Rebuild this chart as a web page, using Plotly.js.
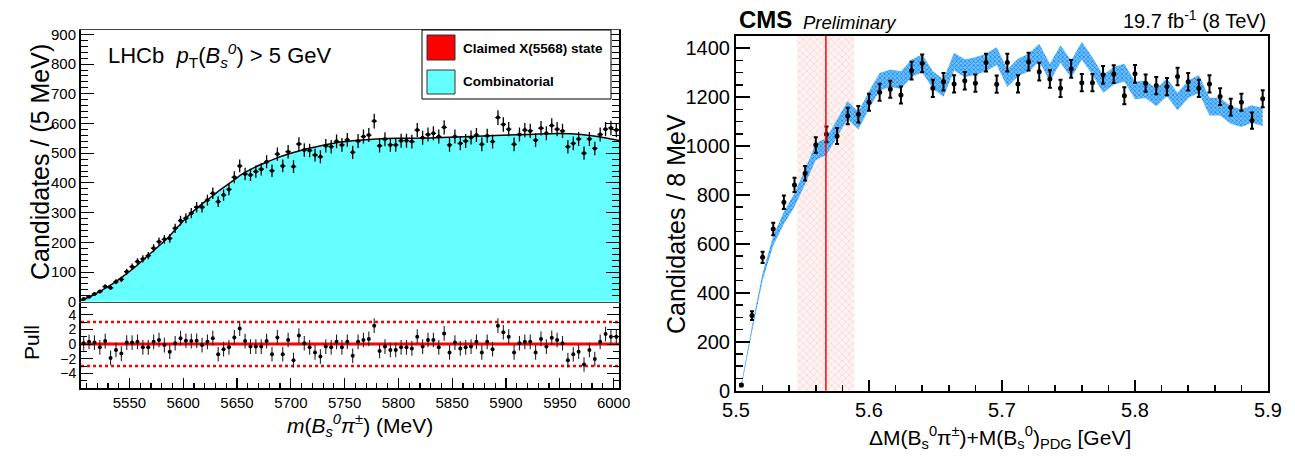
<!DOCTYPE html>
<html><head><meta charset="utf-8">
<script src="https://cdn.plot.ly/plotly-3.0.1.min.js"></script>
<style>body{margin:0;background:#fff}#plot{width:1295px;height:458px}</style>
</head><body><div id="plot"></div>
<script>
// ---------- LHCb panel data ----------
const lhcbBinStart = 5507.5;   // first bin centre (MeV)
const lhcbBinWidth = 5;        // MeV
const lhcbCounts = [9,17,26,34,51,47,67,75,101,118,135,144,155,180,202,210,213,247,273,281,
  298,318,318,342,365,337,359,378,419,457,430,427,438,446,471,441,497,457,505,455,
  531,511,509,494,488,525,522,540,528,545,503,541,556,561,608,525,547,528,528,542,
  542,539,578,552,563,567,556,587,528,556,533,541,553,561,530,559,539,620,597,581,
  530,563,578,575,544,584,567,593,581,575,522,533,548,500,548,516,563,581,585,578];
const lhcbPulls = [0.1,0.3,0.2,-0.45,0.4,-1.9,-0.8,-1.3,0.2,0.2,0.3,-0.45,-0.45,0.3,0.55,-0.15,-1.05,0.1,0.8,0.45,
  0.4,0.45,-0.15,0.3,0.8,-1.4,-0.7,-0.45,0.9,2.1,0.4,-0.35,-0.35,-0.35,0.4,-1.4,0.9,-1.4,0.55,-2.2,
  1.15,0.1,-0.45,-1.15,-1.7,-0.35,-0.45,0.3,-0.45,0.3,-1.6,0.3,0.55,0.7,2.5,-0.95,-0.35,-0.8,-0.8,-0.45,
  -0.45,-0.6,1.0,-0.35,0.55,0.55,-0.45,1.45,-1.15,0.2,-0.6,-0.45,-0.35,0.3,-1.15,0.3,-0.7,2.5,1.6,1.0,
  -1.15,0.1,0.3,0.3,-1.15,0.7,-0.35,0.85,0.55,0.1,-2.2,-1.4,-1.05,-2.8,-0.8,-2.05,0.3,1.35,1.0,1.0];
const fitMass = [5505,5515,5525,5535,5545,5555,5565,5575,5585,5595,5605,5615,5625,5635,5645,5655,5665,5675,5685,5695,
  5705,5715,5730,5745,5760,5780,5800,5830,5860,5890,5920,5950,5970,5990,6005];
const fitComb = [5,20,40,62,88,116,148,180,213,252,290,322,350,378,404,430,450,466,481,494,
  505,515,527,537,543,548,550,551,555,560,563,566,563,553,543];
const pullLimits = [-3, 3];
const legendLabels = ["Claimed X(5568) state", "Combinatorial"];

// ---------- CMS panel data ----------
const cmsBinStart = 5.504;  // GeV
const cmsBinWidth = 0.008;  // GeV
const cmsCounts = [23,307,545,661,770,841,889,1004,1048,1041,1123,1130,1179,1220,1232,1209,1308,1338,1236,1263,
  1254,1267,1257,1341,1253,1341,1254,1345,1304,1274,1236,1315,1259,1259,1291,1294,1206,1295,1257,1247,
  1243,1284,1263,1236,1254,1202,1159,1179,1104,1193];
const cmsBandLo = [12,240,451,593,681,752,845,943,963,1037,1112,1068,1152,1227,1241,1234,1282,1302,1234,1201,
  1309,1282,1291,1305,1332,1241,1285,1305,1346,1264,1340,1278,1354,1291,1218,1251,1264,1191,1196,1163,
  1204,1146,1196,1218,1125,1125,1091,1078,1095,1082];
const cmsBandHi = [28,264,481,633,731,808,905,1011,1033,1109,1184,1140,1224,1299,1313,1306,1354,1374,1306,1273,
  1381,1354,1363,1377,1404,1313,1357,1377,1418,1336,1412,1350,1426,1363,1290,1323,1336,1263,1268,1235,
  1276,1218,1268,1290,1197,1197,1163,1150,1167,1154];
const claimedMass = 5.5676;        // GeV
const claimedRegion = [5.546, 5.589];
const cmsYMax = 1451;

// ---------- geometry helpers (pixel -> paper) ----------
const W = 1295, H = 458;
const px = v => v / W, py = v => 1 - v / H;
const FONT = "Liberation Sans, Arial, Helvetica, sans-serif";

const traces = [
  {x: fitMass, y: fitComb, xaxis: 'x2', yaxis: 'y2', type: 'scatter', mode: 'lines',
   line: {color: '#1a0000', width: 1.5, shape: 'spline'}, fill: 'tozeroy', fillcolor: '#66ffff',
   hoverinfo: 'skip', showlegend: false},
  {x0: lhcbBinStart, dx: lhcbBinWidth, y: lhcbCounts, xaxis: 'x2', yaxis: 'y2', type: 'scatter', mode: 'markers',
   marker: {color: 'black', size: 4},
   error_y: {type: 'sqrt', color: 'black', thickness: 1.3, width: 0},
   error_x: {type: 'constant', value: lhcbBinWidth / 2, color: 'black', thickness: 1.3, width: 0},
   showlegend: false},
  {x: [5505, 6005], y: [pullLimits[1], pullLimits[1]], xaxis: 'x', yaxis: 'y', mode: 'lines',
   line: {color: '#ff0000', width: 2.5, dash: 'dot'}, showlegend: false, hoverinfo: 'skip'},
  {x: [5505, 6005], y: [pullLimits[0], pullLimits[0]], xaxis: 'x', yaxis: 'y', mode: 'lines',
   line: {color: '#ff0000', width: 2.5, dash: 'dot'}, showlegend: false, hoverinfo: 'skip'},
  {x: [5505, 6005], y: [0, 0], xaxis: 'x', yaxis: 'y', mode: 'lines',
   line: {color: '#ff0000', width: 3}, showlegend: false, hoverinfo: 'skip'},
  {x0: lhcbBinStart, dx: lhcbBinWidth, y: lhcbPulls, xaxis: 'x', yaxis: 'y', type: 'scatter', mode: 'markers',
   marker: {color: 'black', size: 4},
   error_y: {type: 'constant', value: 1, color: '#222', thickness: 1.1, width: 0},
   showlegend: false},
  {x: [claimedRegion[0], claimedRegion[1], claimedRegion[1], claimedRegion[0], claimedRegion[0]],
   y: [0, 0, cmsYMax, cmsYMax, 0], xaxis: 'x3', yaxis: 'y3', mode: 'lines', line: {width: 0},
   fill: 'toself', fillcolor: 'rgba(255,255,255,0)',
   fillpattern: {shape: 'x', size: 5, solidity: 0.15, fgcolor: '#ffaaaa', bgcolor: '#fff4f4'},
   showlegend: false, hoverinfo: 'skip'},
  {x0: cmsBinStart, dx: cmsBinWidth, y: cmsBandLo, xaxis: 'x3', yaxis: 'y3', mode: 'lines',
   line: {width: 0, color: '#2f9cf5'}, showlegend: false, hoverinfo: 'skip'},
  {x0: cmsBinStart, dx: cmsBinWidth, y: cmsBandHi, xaxis: 'x3', yaxis: 'y3', mode: 'lines',
   line: {width: 0, color: '#2f9cf5'}, fill: 'tonexty', fillcolor: '#4fb0f7',
   fillpattern: {shape: 'x', size: 3, solidity: 0.45, fgcolor: '#1688f0', bgcolor: '#72c2ff'},
   showlegend: false, hoverinfo: 'skip'},
  {x0: cmsBinStart, dx: cmsBinWidth, y: cmsCounts, xaxis: 'x3', yaxis: 'y3', type: 'scatter', mode: 'markers',
   marker: {color: 'black', size: 5},
   error_y: {type: 'sqrt', color: 'black', thickness: 2, width: 2},
   showlegend: false}
];

const leftDom = [px(81), px(619)];
const rightDom = [px(736), px(1268)];

const layout = {
  width: W, height: H, margin: {l: 0, r: 0, t: 0, b: 0},
  paper_bgcolor: 'white', plot_bgcolor: 'rgba(0,0,0,0)',
  font: {family: FONT, color: 'black'},
  showlegend: false,
  xaxis: {domain: leftDom, anchor: 'y', range: [5505, 6005], dtick: 50, tick0: 5500,
    ticks: 'inside', ticklen: 10, tickwidth: 1.2, tickcolor: 'black',
    minor: {dtick: 10, ticks: 'inside', ticklen: 5, tickcolor: 'black'},
    showline: true, linecolor: 'black', linewidth: 2, showgrid: false, zeroline: false,
    tickfont: {size: 15}},
  yaxis: {domain: [py(388.3), py(301.7)], anchor: 'x', range: [-6.04, 5.77],
    tickvals: [-4, -2, 0, 2, 4], ticks: 'inside', ticklen: 12, tickcolor: 'black',
    minor: {dtick: 1, ticks: 'inside', ticklen: 6, tickcolor: 'black'},
    showline: true, linecolor: 'black', linewidth: 2, mirror: 'ticks', showgrid: false, zeroline: false,
    tickfont: {size: 14}},
  xaxis2: {domain: leftDom, anchor: 'y2', matches: 'x', range: [5505, 6005], showticklabels: false,
    ticks: '', showline: true, linecolor: '#444', linewidth: 1.5, mirror: true, showgrid: false, zeroline: false},
  yaxis2: {domain: [py(301.7), py(30)], anchor: 'x2', range: [0, 914.8], dtick: 100,
    ticks: 'inside', ticklen: 13, tickcolor: 'black',
    minor: {dtick: 20, ticks: 'inside', ticklen: 7, tickcolor: 'black'},
    showline: true, linecolor: 'black', linewidth: 2, mirror: 'ticks', showgrid: false, zeroline: false,
    tickfont: {size: 15}},
  xaxis3: {domain: rightDom, anchor: 'y3', range: [5.5, 5.9], dtick: 0.1, tick0: 5.5, tickformat: '.1f',
    ticks: 'inside', ticklen: 11, tickwidth: 1.5, tickcolor: 'black',
    minor: {dtick: 0.02, ticks: 'inside', ticklen: 6, tickcolor: 'black', tickwidth: 1.5},
    showline: true, linecolor: 'black', linewidth: 2, mirror: true, showgrid: false, zeroline: false,
    tickfont: {size: 20}},
  yaxis3: {domain: [py(390.7), py(35.7)], anchor: 'x3', range: [0, cmsYMax], dtick: 200,
    ticks: 'inside', ticklen: 14, tickwidth: 1.5, tickcolor: 'black',
    minor: {dtick: 50, ticks: 'inside', ticklen: 7, tickcolor: 'black', tickwidth: 1.5},
    showline: true, linecolor: 'black', linewidth: 2, mirror: true, showgrid: false, zeroline: false,
    tickfont: {size: 20}},
  shapes: [
    {type: 'line', xref: 'x3', yref: 'y3 domain', x0: claimedMass, x1: claimedMass, y0: 0, y1: 1,
     line: {color: '#ff0000', width: 1.5}},
    {type: 'rect', xref: 'paper', yref: 'paper', x0: px(422), x1: px(611), y0: py(99), y1: py(30),
     line: {color: 'black', width: 1}, fillcolor: 'white'},
    {type: 'rect', xref: 'paper', yref: 'paper', x0: px(427), x1: px(455), y0: py(60), y1: py(35),
     line: {color: '#333', width: 1}, fillcolor: '#ff0000'},
    {type: 'rect', xref: 'paper', yref: 'paper', x0: px(427), x1: px(455), y0: py(94), y1: py(70),
     line: {color: '#333', width: 1}, fillcolor: '#66ffff'}
  ],
  annotations: [
    {xref: 'paper', yref: 'paper', x: px(461), y: py(48), xanchor: 'left', yanchor: 'middle', showarrow: false,
     text: '<b>' + legendLabels[0] + '</b>', font: {size: 13.5}},
    {xref: 'paper', yref: 'paper', x: px(461), y: py(82), xanchor: 'left', yanchor: 'middle', showarrow: false,
     text: '<b>' + legendLabels[1] + '</b>', font: {size: 13.5}},
    {xref: 'paper', yref: 'paper', x: px(106), y: py(56), xanchor: 'left', yanchor: 'middle', showarrow: false,
     text: 'LHCb  <i>p</i><sub>T</sub>(<i>B</i><sub><i>s</i></sub><sup><i>0</i></sup>) &gt; 5 GeV', font: {size: 22}},
    {xref: 'paper', yref: 'paper', x: px(40), y: py(162), xanchor: 'center', yanchor: 'middle', showarrow: false,
     textangle: -90, text: 'Candidates / (5 MeV)', font: {size: 25}},
    {xref: 'paper', yref: 'paper', x: px(31), y: py(343), xanchor: 'center', yanchor: 'middle', showarrow: false,
     textangle: -90, text: 'Pull', font: {size: 21}},
    {xref: 'paper', yref: 'paper', x: px(360), y: py(425), xanchor: 'center', yanchor: 'middle', showarrow: false,
     text: '<i>m</i>(<i>B</i><sub><i>s</i></sub><sup><i>0</i></sup><i>π</i><sup>±</sup>) (MeV)', font: {size: 21}},
    {xref: 'paper', yref: 'paper', x: px(737), y: py(20), xanchor: 'left', yanchor: 'middle', showarrow: false,
     text: '<b>CMS</b>', font: {size: 24}},
    {xref: 'paper', yref: 'paper', x: px(801), y: py(22), xanchor: 'left', yanchor: 'middle', showarrow: false,
     text: '<i>Preliminary</i>', font: {size: 18.5}},
    {xref: 'paper', yref: 'paper', x: px(1268), y: py(20), xanchor: 'right', yanchor: 'middle', showarrow: false,
     text: '19.7 fb<sup>-1</sup> (8 TeV)', font: {size: 20}},
    {xref: 'paper', yref: 'paper', x: px(676), y: py(224), xanchor: 'center', yanchor: 'middle', showarrow: false,
     textangle: -90, text: 'Candidates / 8 MeV', font: {size: 25}},
    {xref: 'paper', yref: 'paper', x: px(1000), y: py(437), xanchor: 'center', yanchor: 'middle', showarrow: false,
     text: 'ΔM(B<sub>s</sub><sup>0</sup>π<sup>±</sup>)+M(B<sub>s</sub><sup>0</sup>)<sub>PDG</sub> [GeV]', font: {size: 21}}
  ]
};

Plotly.newPlot('plot', traces, layout, {staticPlot: true});
</script></body></html>
